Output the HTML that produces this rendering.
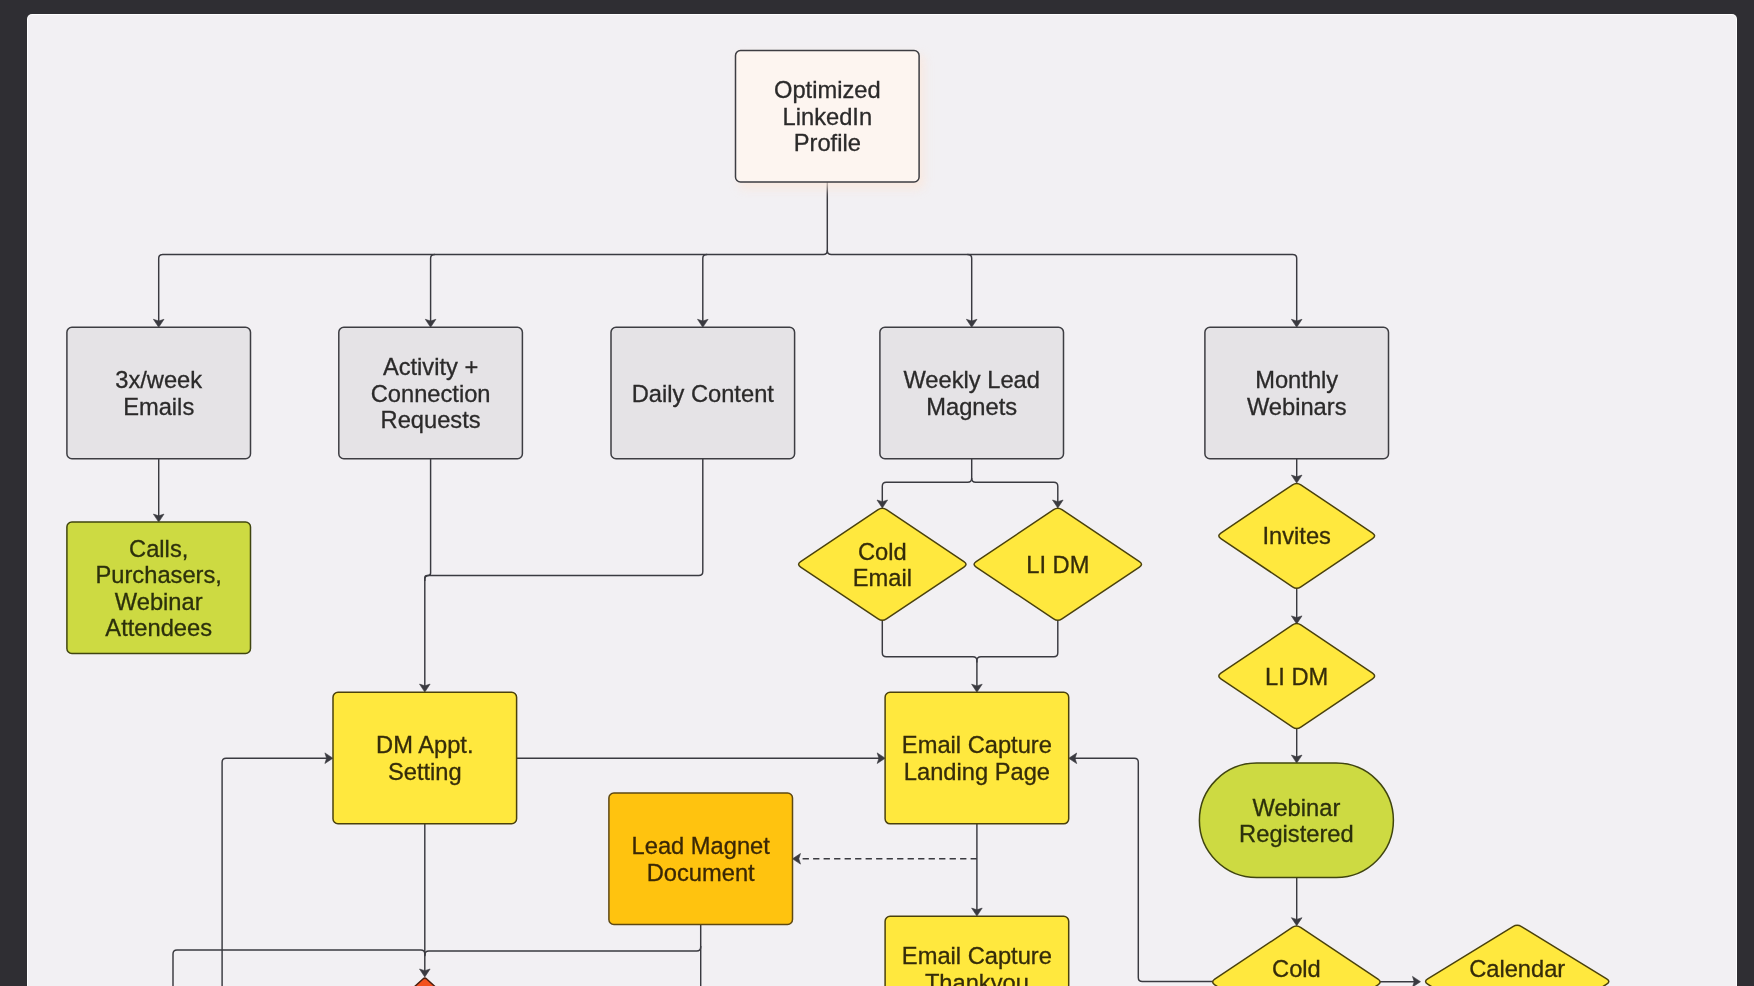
<!DOCTYPE html>
<html><head><meta charset="utf-8"><title>Flowchart</title>
<style>
html,body{margin:0;padding:0;background:#2f2e33;}
body{width:1754px;height:986px;overflow:hidden;position:relative;font-family:"Liberation Sans",sans-serif;}
#panel{position:absolute;left:27px;top:14px;width:1710px;height:990px;background:#f2f0f3;border:1px solid rgba(255,255,255,0.9);border-radius:5px;box-sizing:border-box;}
svg{position:absolute;left:0;top:0;will-change:transform;filter:blur(0.35px);}
svg text{font-family:"Liberation Sans",sans-serif;font-size:23.7px;text-anchor:middle;}
</style></head><body>
<div id="panel"></div>
<svg width="1754" height="986" viewBox="0 0 1754 986">
<defs><filter id="glow" x="-20%" y="-20%" width="140%" height="140%"><feGaussianBlur stdDeviation="5"/></filter></defs>
<path d="M827.30,182.00 L827.30,250.50 Q827.30,254.50 823.30,254.50 L162.70,254.50 Q158.70,254.50 158.70,258.50 L158.70,322.30" fill="none" stroke="#3a3a40" stroke-width="1.45"/>
<path d="M158.70,327.30 L153.40,319.30 L158.70,321.00 L164.00,319.30 Z" fill="#3a3a40" stroke="#3a3a40" stroke-width="0.6" stroke-linejoin="round"/>
<path d="M827.30,250.20 L827.30,250.50 Q827.30,254.50 831.30,254.50 L1292.70,254.50 Q1296.70,254.50 1296.70,258.50 L1296.70,322.30" fill="none" stroke="#3a3a40" stroke-width="1.45"/>
<path d="M1296.70,327.30 L1291.40,319.30 L1296.70,321.00 L1302.00,319.30 Z" fill="#3a3a40" stroke="#3a3a40" stroke-width="0.6" stroke-linejoin="round"/>
<path d="M434.90,254.50 L434.60,254.50 Q430.60,254.50 430.60,258.50 L430.60,322.30" fill="none" stroke="#3a3a40" stroke-width="1.45"/>
<path d="M430.60,327.30 L425.30,319.30 L430.60,321.00 L435.90,319.30 Z" fill="#3a3a40" stroke="#3a3a40" stroke-width="0.6" stroke-linejoin="round"/>
<path d="M707.10,254.50 L706.80,254.50 Q702.80,254.50 702.80,258.50 L702.80,322.30" fill="none" stroke="#3a3a40" stroke-width="1.45"/>
<path d="M702.80,327.30 L697.50,319.30 L702.80,321.00 L708.10,319.30 Z" fill="#3a3a40" stroke="#3a3a40" stroke-width="0.6" stroke-linejoin="round"/>
<path d="M967.40,254.50 L967.70,254.50 Q971.70,254.50 971.70,258.50 L971.70,322.30" fill="none" stroke="#3a3a40" stroke-width="1.45"/>
<path d="M971.70,327.30 L966.40,319.30 L971.70,321.00 L977.00,319.30 Z" fill="#3a3a40" stroke="#3a3a40" stroke-width="0.6" stroke-linejoin="round"/>
<path d="M158.70,458.70 L158.70,517.10" fill="none" stroke="#3a3a40" stroke-width="1.45"/>
<path d="M158.70,522.10 L153.40,514.10 L158.70,515.80 L164.00,514.10 Z" fill="#3a3a40" stroke="#3a3a40" stroke-width="0.6" stroke-linejoin="round"/>
<path d="M430.60,458.70 L430.60,572.90 Q430.60,575.40 428.10,575.40 L427.30,575.40 Q424.80,575.40 424.80,577.90 L424.80,687.10" fill="none" stroke="#3a3a40" stroke-width="1.45"/>
<path d="M424.80,692.10 L419.50,684.10 L424.80,685.80 L430.10,684.10 Z" fill="#3a3a40" stroke="#3a3a40" stroke-width="0.6" stroke-linejoin="round"/>
<path d="M702.80,458.70 L702.80,571.40 Q702.80,575.40 698.80,575.40 L428.80,575.40 Q424.80,575.40 424.80,579.40 L424.80,580.90" fill="none" stroke="#3a3a40" stroke-width="1.45"/>
<path d="M971.70,458.70 L971.70,478.20 Q971.70,482.20 967.70,482.20 L886.30,482.20 Q882.30,482.20 882.30,486.20 L882.30,503.00" fill="none" stroke="#3a3a40" stroke-width="1.45"/>
<path d="M882.30,508.00 L877.00,500.00 L882.30,501.70 L887.60,500.00 Z" fill="#3a3a40" stroke="#3a3a40" stroke-width="0.6" stroke-linejoin="round"/>
<path d="M971.70,477.90 L971.70,478.20 Q971.70,482.20 975.70,482.20 L1053.80,482.20 Q1057.80,482.20 1057.80,486.20 L1057.80,503.00" fill="none" stroke="#3a3a40" stroke-width="1.45"/>
<path d="M1057.80,508.00 L1052.50,500.00 L1057.80,501.70 L1063.10,500.00 Z" fill="#3a3a40" stroke="#3a3a40" stroke-width="0.6" stroke-linejoin="round"/>
<path d="M882.30,620.60 L882.30,652.80 Q882.30,656.80 886.30,656.80 L972.90,656.80 Q976.90,656.80 976.90,660.80 L976.90,687.20" fill="none" stroke="#3a3a40" stroke-width="1.45"/>
<path d="M976.90,692.20 L971.60,684.20 L976.90,685.90 L982.20,684.20 Z" fill="#3a3a40" stroke="#3a3a40" stroke-width="0.6" stroke-linejoin="round"/>
<path d="M1057.80,620.60 L1057.80,652.80 Q1057.80,656.80 1053.80,656.80 L980.90,656.80 Q976.90,656.80 976.90,660.80 L976.90,662.50" fill="none" stroke="#3a3a40" stroke-width="1.45"/>
<path d="M1296.70,458.70 L1296.70,478.10" fill="none" stroke="#3a3a40" stroke-width="1.45"/>
<path d="M1296.70,483.10 L1291.40,475.10 L1296.70,476.80 L1302.00,475.10 Z" fill="#3a3a40" stroke="#3a3a40" stroke-width="0.6" stroke-linejoin="round"/>
<path d="M1296.70,588.60 L1296.70,618.90" fill="none" stroke="#3a3a40" stroke-width="1.45"/>
<path d="M1296.70,623.90 L1291.40,615.90 L1296.70,617.60 L1302.00,615.90 Z" fill="#3a3a40" stroke="#3a3a40" stroke-width="0.6" stroke-linejoin="round"/>
<path d="M1296.70,728.00 L1296.70,758.10" fill="none" stroke="#3a3a40" stroke-width="1.45"/>
<path d="M1296.70,763.10 L1291.40,755.10 L1296.70,756.80 L1302.00,755.10 Z" fill="#3a3a40" stroke="#3a3a40" stroke-width="0.6" stroke-linejoin="round"/>
<path d="M1296.70,877.60 L1296.70,920.70" fill="none" stroke="#3a3a40" stroke-width="1.45"/>
<path d="M1296.70,925.70 L1291.40,917.70 L1296.70,919.40 L1302.00,917.70 Z" fill="#3a3a40" stroke="#3a3a40" stroke-width="0.6" stroke-linejoin="round"/>
<path d="M1380.10,981.70 L1415.50,981.70" fill="none" stroke="#3a3a40" stroke-width="1.45"/>
<path d="M1420.50,981.70 L1412.50,987.00 L1414.20,981.70 L1412.50,976.40 Z" fill="#3a3a40" stroke="#3a3a40" stroke-width="0.6" stroke-linejoin="round"/>
<path d="M1212.70,981.50 L1142.30,981.50 Q1138.30,981.50 1138.30,977.50 L1138.30,762.30 Q1138.30,758.30 1134.30,758.30 L1073.70,758.30" fill="none" stroke="#3a3a40" stroke-width="1.45"/>
<path d="M1068.70,758.30 L1076.70,753.00 L1075.00,758.30 L1076.70,763.60 Z" fill="#3a3a40" stroke="#3a3a40" stroke-width="0.6" stroke-linejoin="round"/>
<path d="M516.50,758.20 L880.20,758.20" fill="none" stroke="#3a3a40" stroke-width="1.45"/>
<path d="M885.20,758.20 L877.20,763.50 L878.90,758.20 L877.20,752.90 Z" fill="#3a3a40" stroke="#3a3a40" stroke-width="0.6" stroke-linejoin="round"/>
<path d="M222.10,1000.00 L222.10,762.20 Q222.10,758.20 226.10,758.20 L327.90,758.20" fill="none" stroke="#3a3a40" stroke-width="1.45"/>
<path d="M332.90,758.20 L324.90,763.50 L326.60,758.20 L324.90,752.90 Z" fill="#3a3a40" stroke="#3a3a40" stroke-width="0.6" stroke-linejoin="round"/>
<path d="M424.80,824.00 L424.80,972.00" fill="none" stroke="#3a3a40" stroke-width="1.45"/>
<path d="M424.80,977.00 L419.50,969.00 L424.80,970.70 L430.10,969.00 Z" fill="#3a3a40" stroke="#3a3a40" stroke-width="0.6" stroke-linejoin="round"/>
<path d="M173.00,1000.00 L173.00,954.00 Q173.00,950.00 177.00,950.00 L420.80,950.00 Q424.80,950.00 424.80,954.00 L424.80,955.50" fill="none" stroke="#3a3a40" stroke-width="1.45"/>
<path d="M700.70,924.20 L700.70,946.90 Q700.70,950.90 696.70,950.90 L428.80,950.90 Q424.80,950.90 424.80,954.90 L424.80,956.20" fill="none" stroke="#3a3a40" stroke-width="1.45"/>
<path d="M700.70,946.00 L700.70,1000.00" fill="none" stroke="#3a3a40" stroke-width="1.45"/>
<path d="M976.90,823.80 L976.90,911.10" fill="none" stroke="#3a3a40" stroke-width="1.45"/>
<path d="M976.90,916.10 L971.60,908.10 L976.90,909.80 L982.20,908.10 Z" fill="#3a3a40" stroke="#3a3a40" stroke-width="0.6" stroke-linejoin="round"/>
<path d="M976.90,858.80 L797.50,858.80" fill="none" stroke="#3a3a40" stroke-width="1.45" stroke-dasharray="6.3 4.2"/>
<path d="M792.50,858.80 L800.50,853.50 L798.80,858.80 L800.50,864.10 Z" fill="#3a3a40" stroke="#3a3a40" stroke-width="0.6" stroke-linejoin="round"/>
<rect x="738.5" y="54.5" width="185.6" height="134.5" rx="6" fill="#fbe6da" opacity="0.75" filter="url(#glow)"/>
<rect x="735.50" y="50.45" width="183.60" height="131.50" rx="5" ry="5" fill="#fdf5f0" stroke="#3d3d42" stroke-width="1.5"/>
<text x="827.30" y="98.33" fill="#2b2a2a" stroke="#2b2a2a" stroke-width="0.3">Optimized</text>
<text x="827.30" y="124.73" fill="#2b2a2a" stroke="#2b2a2a" stroke-width="0.3">LinkedIn</text>
<text x="827.30" y="151.13" fill="#2b2a2a" stroke="#2b2a2a" stroke-width="0.3">Profile</text>
<rect x="66.90" y="327.25" width="183.60" height="131.50" rx="5" ry="5" fill="#e5e3e6" stroke="#3d3d42" stroke-width="1.5"/>
<text x="158.70" y="388.33" fill="#2b2a2a" stroke="#2b2a2a" stroke-width="0.3">3x/week</text>
<text x="158.70" y="414.73" fill="#2b2a2a" stroke="#2b2a2a" stroke-width="0.3">Emails</text>
<rect x="338.80" y="327.25" width="183.60" height="131.50" rx="5" ry="5" fill="#e5e3e6" stroke="#3d3d42" stroke-width="1.5"/>
<text x="430.60" y="375.13" fill="#2b2a2a" stroke="#2b2a2a" stroke-width="0.3">Activity +</text>
<text x="430.60" y="401.53" fill="#2b2a2a" stroke="#2b2a2a" stroke-width="0.3">Connection</text>
<text x="430.60" y="427.93" fill="#2b2a2a" stroke="#2b2a2a" stroke-width="0.3">Requests</text>
<rect x="611.00" y="327.25" width="183.60" height="131.50" rx="5" ry="5" fill="#e5e3e6" stroke="#3d3d42" stroke-width="1.5"/>
<text x="702.80" y="401.53" fill="#2b2a2a" stroke="#2b2a2a" stroke-width="0.3">Daily Content</text>
<rect x="879.90" y="327.25" width="183.60" height="131.50" rx="5" ry="5" fill="#e5e3e6" stroke="#3d3d42" stroke-width="1.5"/>
<text x="971.70" y="388.33" fill="#2b2a2a" stroke="#2b2a2a" stroke-width="0.3">Weekly Lead</text>
<text x="971.70" y="414.73" fill="#2b2a2a" stroke="#2b2a2a" stroke-width="0.3">Magnets</text>
<rect x="1204.90" y="327.25" width="183.60" height="131.50" rx="5" ry="5" fill="#e5e3e6" stroke="#3d3d42" stroke-width="1.5"/>
<text x="1296.70" y="388.33" fill="#2b2a2a" stroke="#2b2a2a" stroke-width="0.3">Monthly</text>
<text x="1296.70" y="414.73" fill="#2b2a2a" stroke="#2b2a2a" stroke-width="0.3">Webinars</text>
<rect x="66.90" y="522.05" width="183.60" height="131.50" rx="5" ry="5" fill="#cdda42" stroke="#40450f" stroke-width="1.5"/>
<text x="158.70" y="556.73" fill="#2c300c" stroke="#2c300c" stroke-width="0.3">Calls,</text>
<text x="158.70" y="583.13" fill="#2c300c" stroke="#2c300c" stroke-width="0.3">Purchasers,</text>
<text x="158.70" y="609.53" fill="#2c300c" stroke="#2c300c" stroke-width="0.3">Webinar</text>
<text x="158.70" y="635.93" fill="#2c300c" stroke="#2c300c" stroke-width="0.3">Attendees</text>
<rect x="333.00" y="692.25" width="183.60" height="131.50" rx="5" ry="5" fill="#ffe83e" stroke="#4a410c" stroke-width="1.5"/>
<text x="424.80" y="753.33" fill="#352c0a" stroke="#352c0a" stroke-width="0.3">DM Appt.</text>
<text x="424.80" y="779.73" fill="#352c0a" stroke="#352c0a" stroke-width="0.3">Setting</text>
<rect x="608.90" y="793.05" width="183.60" height="131.50" rx="5" ry="5" fill="#ffc30f" stroke="#5e4812" stroke-width="1.5"/>
<text x="700.70" y="854.13" fill="#3a2706" stroke="#3a2706" stroke-width="0.3">Lead Magnet</text>
<text x="700.70" y="880.53" fill="#3a2706" stroke="#3a2706" stroke-width="0.3">Document</text>
<rect x="885.10" y="692.35" width="183.60" height="131.50" rx="5" ry="5" fill="#ffe83e" stroke="#4a410c" stroke-width="1.5"/>
<text x="976.90" y="753.43" fill="#352c0a" stroke="#352c0a" stroke-width="0.3">Email Capture</text>
<text x="976.90" y="779.83" fill="#352c0a" stroke="#352c0a" stroke-width="0.3">Landing Page</text>
<rect x="885.10" y="916.25" width="183.60" height="131.50" rx="5" ry="5" fill="#ffe83e" stroke="#4a410c" stroke-width="1.5"/>
<text x="976.90" y="964.13" fill="#352c0a" stroke="#352c0a" stroke-width="0.3">Email Capture</text>
<text x="976.90" y="990.53" fill="#352c0a" stroke="#352c0a" stroke-width="0.3">Thankyou</text>
<text x="976.90" y="1016.93" fill="#352c0a" stroke="#352c0a" stroke-width="0.3">Page</text>
<path d="M878.14,509.73 Q882.30,506.95 886.46,509.73 L963.94,561.52 Q968.10,564.30 963.94,567.08 L886.46,618.87 Q882.30,621.65 878.14,618.87 L800.66,567.08 Q796.50,564.30 800.66,561.52 Z" fill="#ffe83e" stroke="#4a410c" stroke-width="1.5" stroke-linejoin="round"/>
<text x="882.30" y="559.63" fill="#352c0a" stroke="#352c0a" stroke-width="0.3">Cold</text>
<text x="882.30" y="586.03" fill="#352c0a" stroke="#352c0a" stroke-width="0.3">Email</text>
<path d="M1053.64,509.73 Q1057.80,506.95 1061.96,509.73 L1139.44,561.52 Q1143.60,564.30 1139.44,567.08 L1061.96,618.87 Q1057.80,621.65 1053.64,618.87 L976.16,567.08 Q972.00,564.30 976.16,561.52 Z" fill="#ffe83e" stroke="#4a410c" stroke-width="1.5" stroke-linejoin="round"/>
<text x="1057.80" y="572.83" fill="#352c0a" stroke="#352c0a" stroke-width="0.3">LI DM</text>
<path d="M1292.55,484.79 Q1296.70,482.00 1300.85,484.79 L1372.55,533.01 Q1376.70,535.80 1372.55,538.59 L1300.85,586.81 Q1296.70,589.60 1292.55,586.81 L1220.85,538.59 Q1216.70,535.80 1220.85,533.01 Z" fill="#ffe83e" stroke="#4a410c" stroke-width="1.5" stroke-linejoin="round"/>
<text x="1296.70" y="544.33" fill="#352c0a" stroke="#352c0a" stroke-width="0.3">Invites</text>
<path d="M1292.55,624.99 Q1296.70,622.20 1300.85,624.99 L1372.55,673.21 Q1376.70,676.00 1372.55,678.79 L1300.85,727.01 Q1296.70,729.80 1292.55,727.01 L1220.85,678.79 Q1216.70,676.00 1220.85,673.21 Z" fill="#ffe83e" stroke="#4a410c" stroke-width="1.5" stroke-linejoin="round"/>
<text x="1296.70" y="684.53" fill="#352c0a" stroke="#352c0a" stroke-width="0.3">LI DM</text>
<rect x="1199.4" y="763.1" width="194" height="114.5" rx="57.25" ry="57.25" fill="#cdda42" stroke="#40450f" stroke-width="1.5"/>
<text x="1296.40" y="815.73" fill="#2c300c" stroke="#2c300c" stroke-width="0.3">Webinar</text>
<text x="1296.40" y="842.13" fill="#2c300c" stroke="#2c300c" stroke-width="0.3">Registered</text>
<path d="M1292.24,927.43 Q1296.40,924.65 1300.56,927.43 L1378.04,979.22 Q1382.20,982.00 1378.04,984.78 L1300.56,1036.57 Q1296.40,1039.35 1292.24,1036.57 L1214.76,984.78 Q1210.60,982.00 1214.76,979.22 Z" fill="#ffe83e" stroke="#4a410c" stroke-width="1.5" stroke-linejoin="round"/>
<text x="1296.40" y="977.33" fill="#352c0a" stroke="#352c0a" stroke-width="0.3">Cold</text>
<text x="1296.40" y="1003.73" fill="#352c0a" stroke="#352c0a" stroke-width="0.3">Email</text>
<path d="M1512.94,926.57 Q1517.20,923.95 1521.46,926.57 L1606.69,978.98 Q1610.95,981.60 1606.69,984.22 L1521.46,1036.63 Q1517.20,1039.25 1512.94,1036.63 L1427.71,984.22 Q1423.45,981.60 1427.71,978.98 Z" fill="#ffe83e" stroke="#4a410c" stroke-width="1.5" stroke-linejoin="round"/>
<text x="1517.20" y="977.33" fill="#352c0a" stroke="#352c0a" stroke-width="0.3">Calendar</text>
<text x="1517.20" y="1003.73" fill="#352c0a" stroke="#352c0a" stroke-width="0.3">Invites</text>
<path d="M422.95,978.98 Q424.80,977.30 426.65,978.98 L479.95,1027.62 Q481.80,1029.30 479.95,1030.98 L426.65,1079.62 Q424.80,1081.30 422.95,1079.62 L369.65,1030.98 Q367.80,1029.30 369.65,1027.62 Z" fill="#f4511e" stroke="#4a1f10" stroke-width="1.5" stroke-linejoin="round"/>
</svg>
</body></html>
